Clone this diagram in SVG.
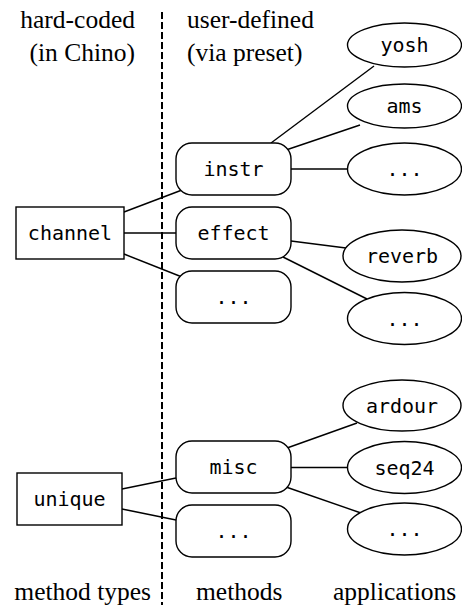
<svg xmlns="http://www.w3.org/2000/svg" width="462" height="605" viewBox="0 0 462 605">
<style>
.hdr{font-family:"Liberation Serif","Times New Roman",Times,"DejaVu Serif","Noto Serif",Tinos,serif;font-size:25.5px;fill:#000}
.box{fill:#fff;stroke:#000;stroke-width:1.4}
.lbl{font-family:'DejaVu Sans Mono',monospace;font-size:20px;fill:#000;text-anchor:middle}
.edge{stroke:#000;stroke-width:1.4;fill:none}
</style>
<rect width="462" height="605" fill="#fff"/>
<line x1="162" y1="12" x2="162" y2="605" stroke="#000" stroke-width="2" stroke-dasharray="7,3"/>
<g id="headers">
<text class="hdr" x="135" y="28" text-anchor="end">hard-coded</text>
<text class="hdr" x="135" y="61" text-anchor="end">(in Chino)</text>
<text class="hdr" x="187" y="28">user-defined</text>
<text class="hdr" x="187" y="61">(via preset)</text>
<text class="hdr" x="151" y="600" text-anchor="end">method types</text>
<text class="hdr" x="196" y="600">methods</text>
<text class="hdr" x="333" y="600">applications</text>
</g>
<g id="connectors">
<line class="edge" x1="124" y1="212" x2="182" y2="190"/>
<line class="edge" x1="124" y1="233" x2="176" y2="233"/>
<line class="edge" x1="124" y1="254" x2="182" y2="277"/>
<line class="edge" x1="271" y1="143" x2="374" y2="66"/>
<line class="edge" x1="286" y1="150" x2="360" y2="125"/>
<line class="edge" x1="291" y1="169" x2="348" y2="169"/>
<line class="edge" x1="291" y1="241" x2="346" y2="248"/>
<line class="edge" x1="283" y1="257" x2="367" y2="299"/>
<line class="edge" x1="122" y1="489" x2="176" y2="478"/>
<line class="edge" x1="122" y1="509" x2="176" y2="520"/>
<line class="edge" x1="287" y1="448" x2="357" y2="423"/>
<line class="edge" x1="291" y1="467.5" x2="348" y2="467.5"/>
<line class="edge" x1="286" y1="487" x2="361" y2="513"/>
</g>
<g id="channel"><rect class="box" x="16" y="207" width="108" height="52"/><text class="lbl" x="70" y="240">channel</text></g>
<g id="unique"><rect class="box" x="17" y="473" width="105" height="52"/><text class="lbl" x="69.5" y="506">unique</text></g>
<g id="instr"><rect class="box" x="176" y="143" width="115" height="52" rx="16"/><text class="lbl" x="233.5" y="176">instr</text></g>
<g id="effect"><rect class="box" x="176" y="207" width="115" height="52" rx="16"/><text class="lbl" x="233.5" y="240">effect</text></g>
<g id="method_more1"><rect class="box" x="176" y="271" width="115" height="52" rx="16"/><text class="lbl" x="233.5" y="304">...</text></g>
<g id="misc"><rect class="box" x="176" y="441" width="115" height="52" rx="16"/><text class="lbl" x="233.5" y="474">misc</text></g>
<g id="method_more2"><rect class="box" x="176" y="505" width="115" height="52" rx="16"/><text class="lbl" x="233.5" y="538">...</text></g>
<g id="yosh"><ellipse class="box" cx="404.5" cy="45" rx="57" ry="22"/><text class="lbl" x="404.5" y="52">yosh</text></g>
<g id="ams"><ellipse class="box" cx="404.5" cy="106" rx="57" ry="22"/><text class="lbl" x="404.5" y="113">ams</text></g>
<g id="app_more1"><ellipse class="box" cx="404.5" cy="169" rx="57" ry="26"/><text class="lbl" x="404.5" y="176">...</text></g>
<g id="reverb"><ellipse class="box" cx="402" cy="256" rx="59" ry="26"/><text class="lbl" x="402" y="263">reverb</text></g>
<g id="app_more2"><ellipse class="box" cx="404.5" cy="318.5" rx="57" ry="26"/><text class="lbl" x="404.5" y="325.5">...</text></g>
<g id="ardour"><ellipse class="box" cx="402" cy="405.5" rx="59" ry="25.5"/><text class="lbl" x="402" y="412.5">ardour</text></g>
<g id="seq24"><ellipse class="box" cx="404.5" cy="467.5" rx="57" ry="26"/><text class="lbl" x="404.5" y="474.5">seq24</text></g>
<g id="app_more3"><ellipse class="box" cx="404.5" cy="529" rx="57" ry="26"/><text class="lbl" x="404.5" y="536">...</text></g>
</svg>
